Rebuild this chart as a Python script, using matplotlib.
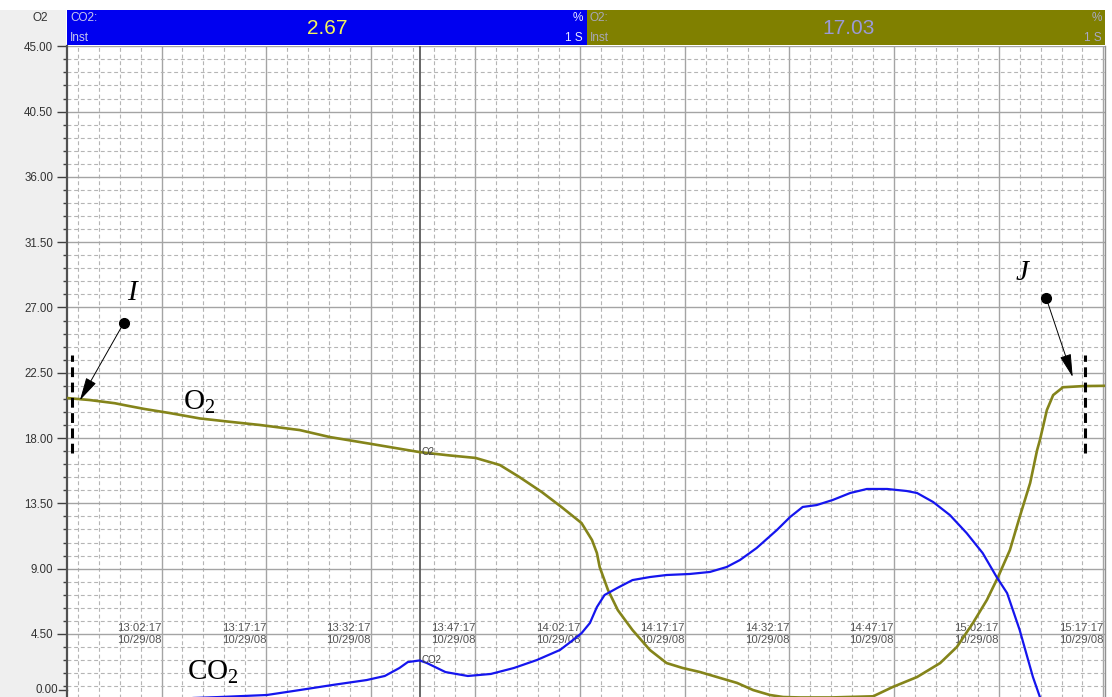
import numpy as np
import matplotlib
matplotlib.use("Agg")
import matplotlib.pyplot as plt
from matplotlib.patches import Rectangle
from matplotlib.ticker import MultipleLocator
import matplotlib.transforms as mtransforms

# ---------------------------------------------------------------- data
# time is in minutes after 13:02:17 on 10/29/08
tick_minutes = [0, 15, 30, 45, 60, 75, 90, 105, 120, 135]
tick_times = ["13:02:17", "13:17:17", "13:32:17", "13:47:17", "14:02:17",
              "14:17:17", "14:32:17", "14:47:17", "15:02:17", "15:17:17"]
tick_date = "10/29/08"

o2_t = [-13.6, -10.3, -6.7, -4.6, -2.4, 1.2, 5.5, 9.8, 14.1, 19.8, 24.1, 30.1,
        37.0, 41.3, 45.0, 48.5, 51.3, 54.5, 57.5, 60.2, 61.7, 62.4, 62.8, 64.0,
        65.4, 67.5, 70.0, 72.4, 74.7, 77.2, 79.6, 82.5, 84.8, 87.2, 89.1, 91.5,
        96.0, 102.0, 104.8, 108.3, 111.6, 114.0, 116.3, 118.3, 119.9, 121.6,
        123.0, 124.5, 125.5, 125.9, 126.9, 127.8, 129.2, 132.1, 135.3]
o2_pct = [20.76, 20.62, 20.40, 20.20, 20.00, 19.72, 19.35, 19.12, 18.90, 18.55,
          18.07, 17.59, 17.03, 16.80, 16.63, 16.14, 15.31, 14.28, 13.18, 12.14,
          10.97, 10.08, 9.11, 7.52, 6.14, 4.77, 3.39, 2.49, 2.15, 1.87, 1.53,
          1.12, 0.63, 0.29, 0.15, 0.12, 0.12, 0.20, 0.84, 1.53, 2.49, 3.60,
          5.25, 6.84, 8.42, 10.28, 12.56, 14.90, 17.17, 17.86, 19.93, 20.96,
          21.50, 21.58, 21.60]

co2_t = [-13.6, -0.3, 8.3, 15.1, 19.8, 24.5, 29.4, 32.0, 34.1, 35.3, 37.0, 38.0,
         40.7, 43.9, 47.2, 50.5, 53.8, 57.1, 58.5, 60.2, 61.4, 62.4, 63.5, 65.3,
         67.5, 70.0, 72.4, 75.7, 78.6, 81.0, 82.9, 85.3, 88.2, 90.1, 91.9, 93.9,
         96.2, 98.7, 101.1, 104.0, 106.8, 108.3, 110.6, 113.0, 115.4, 117.7,
         119.7, 121.2, 123.0, 124.9, 125.9, 126.6]
co2_pct = [0.00, 0.00, 0.15, 0.29, 0.63, 0.98, 1.32, 1.60, 2.15, 2.56, 2.67, 2.50,
           1.87, 1.60, 1.74, 2.15, 2.70, 3.39, 3.90, 4.55, 5.25, 6.35, 7.18, 7.66,
           8.21, 8.42, 8.56, 8.63, 8.77, 9.11, 9.59, 10.42, 11.66, 12.56, 13.25,
           13.38, 13.73, 14.21, 14.49, 14.49, 14.35, 14.21, 13.59, 12.69, 11.45,
           10.07, 8.42, 7.31, 4.77, 1.53, 0.15, -0.80]

cursor_t = 37.0

# ---------------------------------------------------------------- style
plt.rcParams["font.family"] = ["Liberation Sans", "DejaVu Sans"]
plt.rcParams["mathtext.fontset"] = "custom"
plt.rcParams["mathtext.rm"] = "Liberation Serif"
plt.rcParams["mathtext.it"] = "Liberation Serif:italic"

W, H = 1112, 697
fig = plt.figure(figsize=(W / 100, H / 100), dpi=100, facecolor="white")


def px_box(x0, y0, x1, y1):
    """figure-fraction rectangle from pixel edges (y measured from the top)"""
    return (x0 / W, 1 - y1 / H, (x1 - x0) / W, (y1 - y0) / H)


def px_rect(x0, y0, x1, y1, **kw):
    l, b, w, h = px_box(x0, y0, x1, y1)
    return Rectangle((l, b), w, h, transform=fig.transFigure, **kw)


# grey margin behind the value scale
fig.add_artist(px_rect(0, 10, 66, H, facecolor="#efefef", edgecolor="none",
                       zorder=-5))

# plot area: 0 % sits just below the lower edge of the figure
ax = fig.add_axes(px_box(66.5, 46.3, 1105, 699.2))
ax.set_xlim(-13.62, 135.23)
ax.set_ylim(0, 45)

# grid
ax.xaxis.set_major_locator(MultipleLocator(15))
ax.xaxis.set_minor_locator(MultipleLocator(3))
ax.yaxis.set_major_locator(MultipleLocator(4.5))
ax.yaxis.set_minor_locator(MultipleLocator(0.9))
ax.grid(which="major", color="#a4a4a4", lw=1.0, ls="-")
ax.grid(which="minor", color="#b5b5b5", lw=0.8, ls=(0, (3.5, 2.5)))
ax.set_axisbelow(True)

yt = np.arange(0, 45.01, 4.5)
ax.set_yticks(yt)
ax.set_yticklabels(["" if v == 0 else f"{v:.2f}" for v in yt])
ax.tick_params(axis="x", which="both", length=0, labelbottom=False)
ax.tick_params(axis="y", which="major", length=7.5, width=1.0, color="#404040",
               labelsize=8.3, labelcolor="#333333", pad=2)
ax.tick_params(axis="y", which="minor", length=3, width=1.0, color="#404040")

for side in ("top", "bottom"):
    ax.spines[side].set_visible(False)
ax.spines["left"].set_color("#505050")
ax.spines["left"].set_linewidth(1.6)
ax.spines["right"].set_color("#909090")
ax.spines["right"].set_linewidth(1.0)

# bottom scale label sits just above the clipped 0 line
ylab = mtransforms.blended_transform_factory(ax.transAxes, ax.transData)
ax.text(-0.0085, 0.6, "0.00", transform=ylab, ha="right", va="center",
        fontsize=8.3, color="#333333", clip_on=False)
ax.plot([-0.0072, 0], [0.6, 0.6], transform=ylab, color="#404040", lw=1.0,
        clip_on=False)

# time labels inside the chart
for t, lab in zip(tick_minutes, tick_times):
    ax.text(t, 4.5, f"{lab}\n{tick_date}", ha="right", va="center",
            fontsize=8.2, color="#555555", linespacing=1.3, zorder=2)

# curves
ax.plot(o2_t, o2_pct, color="#84841a", lw=1.9, zorder=4, solid_capstyle="butt")
ax.plot(co2_t, co2_pct, color="#1515ee", lw=1.6, zorder=4, solid_capstyle="butt")

# cursor and its readings
o2_now = float(np.interp(cursor_t, o2_t, o2_pct))
co2_now = float(np.interp(cursor_t, co2_t, co2_pct))
ax.axvline(cursor_t, color="#5a5a5a", lw=1.3, zorder=3)
ax.annotate("O2", (cursor_t, o2_now), xytext=(2, 0), textcoords="offset pixels",
            ha="left", va="center", fontsize=7, color="#444444", zorder=5)
ax.annotate("CO2", (cursor_t, co2_now), xytext=(2, 0), textcoords="offset pixels",
            ha="left", va="center", fontsize=7, color="#444444", zorder=5)

# series names
ax.text(5.4, 20.5, r"$\mathrm{O_2}$", fontsize=21, ha="center", va="center",
        color="black", zorder=6)
ax.text(7.3, 1.9, r"$\mathrm{CO_2}$", fontsize=21, ha="center", va="center",
        color="black", zorder=6)

# start (I) and end (J) markers
for xline, (tx, ty), (dx, dy), tip, name in [
        (-12.9, (-4.2, 28.0), (-5.45, 25.9), (-11.7, 20.6), "I"),
        (132.4, (123.3, 29.4), (126.8, 27.65), (130.6, 22.2), "J")]:
    ax.plot([xline, xline], [17.0, 23.7], color="black", lw=2.2,
            ls=(0, (3.2, 1.8)), zorder=6, clip_on=False)
    ax.text(tx, ty, name, fontsize=21, family="Liberation Serif",
            style="italic", ha="center", va="center", zorder=6)
    ax.plot(dx, dy, "o", color="black", ms=7, zorder=7)
    ax.annotate("", xy=tip, xytext=(dx, dy),
                arrowprops=dict(arrowstyle="-|>,head_length=0.9,head_width=0.22",
                                color="black", lw=0.7, shrinkA=3, shrinkB=0,
                                mutation_scale=16), zorder=7)

# ---------------------------------------------------------------- header
x_split = 587
fig.add_artist(px_rect(67, 10, x_split, 45, facecolor="#0000f0",
                       edgecolor="none"))
fig.add_artist(px_rect(x_split, 10, 1105, 45, facecolor="#808000",
                       edgecolor="none"))


def ftext(x, y, s, **kw):
    fig.text(x / W, 1 - y / H, s, **kw)


ftext(40, 18, "O2", fontsize=8.5, color="#333333", ha="center", va="center")

ftext(70, 18, "CO2:", fontsize=8.5, color="#c8c8ee", ha="left", va="center")
ftext(70, 38, "Inst", fontsize=8.5, color="#c8c8ee", ha="left", va="center")
ftext(327, 28, f"{co2_now:.2f}", fontsize=15, color="#f4f45a", ha="center",
      va="center")
ftext(583, 18, "%", fontsize=8.5, color="#e8e8ff", ha="right", va="center")
ftext(583, 38, "1 S", fontsize=8.5, color="#e8e8ff", ha="right", va="center")

ftext(590, 18, "O2:", fontsize=8.5, color="#a8a8b8", ha="left", va="center")
ftext(590, 38, "Inst", fontsize=8.5, color="#a8a8b8", ha="left", va="center")
ftext(849, 28, f"{o2_now:.2f}", fontsize=15, color="#9a9ad6", ha="center",
      va="center")
ftext(1102, 18, "%", fontsize=8.5, color="#a8a8c8", ha="right", va="center")
ftext(1102, 38, "1 S", fontsize=8.5, color="#a8a8c8", ha="right", va="center")

fig.savefig("out.png", dpi=100)
